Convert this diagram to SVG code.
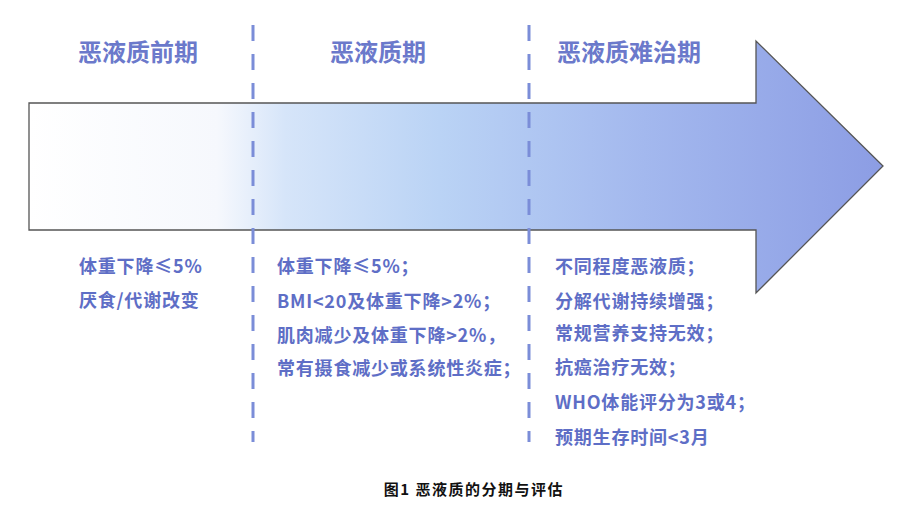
<svg xmlns="http://www.w3.org/2000/svg" width="900" height="516" viewBox="0 0 900 516">
<defs>
<linearGradient id="arrowGrad" x1="29" y1="0" x2="883" y2="0" gradientUnits="userSpaceOnUse">
<stop offset="0" stop-color="#ffffff"/>
<stop offset="0.22" stop-color="#f6f8fd"/>
<stop offset="0.3" stop-color="#d6e5f9"/>
<stop offset="0.48" stop-color="#bad3f5"/>
<stop offset="0.72" stop-color="#a3b8ee"/>
<stop offset="1" stop-color="#8c9de4"/>
</linearGradient>
<style>
.title{font-family:"Noto Sans CJK SC","Noto Sans",sans-serif;font-weight:700;font-size:24px;fill:#6b79cb;}
.body{font-family:"Noto Sans CJK SC","Noto Sans",sans-serif;font-weight:700;font-size:18px;fill:#5e6ec6;letter-spacing:0.8px;}
.caption{font-family:"Noto Sans CJK SC","Noto Sans",sans-serif;font-weight:700;font-size:15px;fill:#111111;letter-spacing:1.5px;}
.divider{stroke:#7b8dd8;stroke-width:3;stroke-dasharray:16 13;fill:none;}
</style>
</defs>
<rect width="900" height="516" fill="#ffffff"/>
<g id="arrow">
<path d="M29,103 L756,103 L756,41 L883,166 L756,293 L756,230 L29,230 Z" fill="url(#arrowGrad)" stroke="#555555" stroke-width="1.3" stroke-linejoin="miter"/>
</g>
<g id="connectors">
<line class="divider" x1="253" y1="25" x2="253" y2="442"/>
<line class="divider" x1="529" y1="25" x2="529" y2="442"/>
</g>
<g id="stage1">
<text class="title" x="138" y="61" text-anchor="middle">恶液质前期</text>
<text class="body" x="79" y="273">体重下降≤5%</text>
<text class="body" x="79" y="307">厌食/代谢改变</text>
</g>
<g id="stage2">
<text class="title" x="378" y="61" text-anchor="middle">恶液质期</text>
<text class="body" x="277" y="273">体重下降≤5%；</text>
<text class="body" x="277" y="308">BMI&lt;20及体重下降&gt;2%；</text>
<text class="body" x="277" y="342">肌肉减少及体重下降&gt;2%，</text>
<text class="body" x="277" y="375">常有摄食减少或系统性炎症；</text>
</g>
<g id="stage3">
<text class="title" x="629" y="61" text-anchor="middle">恶液质难治期</text>
<text class="body" x="555" y="273">不同程度恶液质；</text>
<text class="body" x="555" y="308">分解代谢持续增强；</text>
<text class="body" x="555" y="340">常规营养支持无效；</text>
<text class="body" x="555" y="374">抗癌治疗无效；</text>
<text class="body" x="555" y="409">WHO体能评分为3或4；</text>
<text class="body" x="555" y="444">预期生存时间&lt;3月</text>
</g>
<g id="caption">
<text class="caption" x="474" y="495" text-anchor="middle">图1 恶液质的分期与评估</text>
</g>
</svg>
